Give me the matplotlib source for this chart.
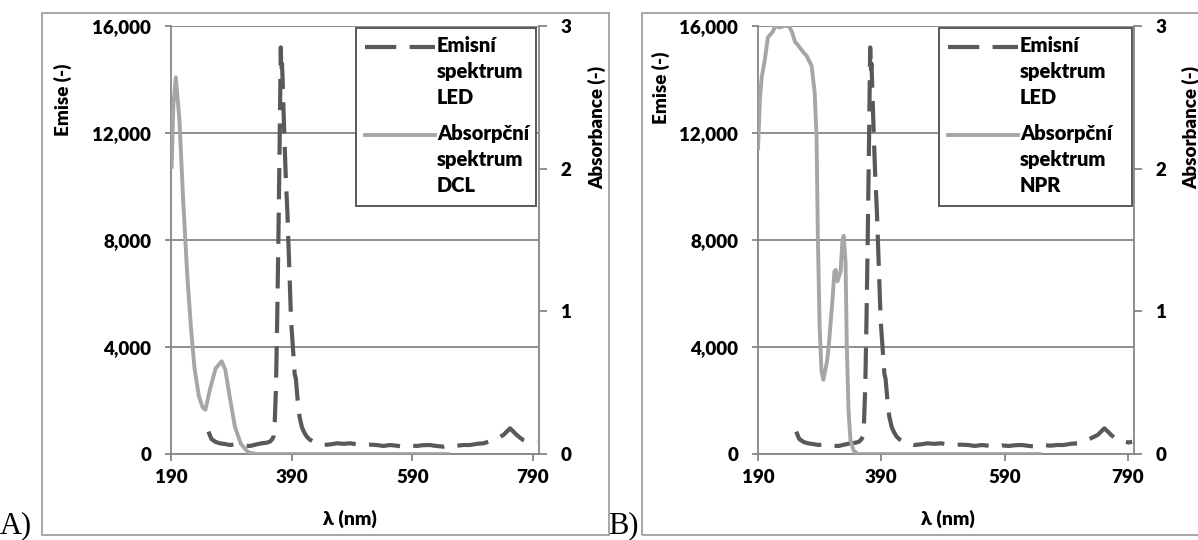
import matplotlib.pyplot as plt
from matplotlib.ticker import FuncFormatter
from matplotlib.patches import Rectangle
from matplotlib.lines import Line2D

# LED emission spectrum (same LED in both panels)
led_nm = [252, 257, 264, 271, 280, 288, 296, 304, 312, 321, 330, 340, 348, 354, 358,
          360, 362, 364, 366, 368, 370, 372, 373, 374, 375, 377, 380, 383, 386, 389,
          392, 395, 397, 400, 403, 407, 411, 415, 420, 426, 434, 443, 454, 465, 476,
          487, 498, 509, 520, 531, 542, 553, 564, 575, 586, 597, 608, 619, 630, 642,
          653, 664, 675, 686, 697, 708, 719, 730, 741, 752, 757, 763, 769, 774, 780,
          785, 791, 797]
led_val = [835, 560, 450, 400, 370, 336, 360, 336, 310, 300, 350, 400, 420, 460, 560,
           650, 1200, 2500, 5000, 8000, 11500, 15200, 14300, 14600, 14000, 12500, 10500, 9000, 7000, 5000,
           4000, 3000, 2800, 2000, 1400, 1000, 800, 650, 540, 460, 380, 336, 360, 400, 380,
           400, 360, 336, 350, 336, 300, 336, 310, 274, 320, 300, 330, 336, 300, 274,
           336, 310, 336, 336, 380, 400, 480, 585, 710, 960, 850, 710, 600, 523, 480,
           460, 430, 460]

# absorption spectra
dcl_nm = [191, 194, 198, 204, 210, 217, 223, 229, 236, 242, 247, 255, 264, 274, 280,
          287, 296, 306, 318, 331, 652]
dcl_abs = [2.0, 2.45, 2.64, 2.34, 1.79, 1.25, 0.89, 0.60, 0.41, 0.33, 0.31, 0.46, 0.60, 0.65, 0.59,
           0.41, 0.19, 0.07, 0.012, 0.0, 0.0]

npr_nm = [190, 193, 196, 201, 206, 214, 218, 225, 232, 240, 245, 250, 256, 261, 269,
          277, 282, 285, 287, 290, 293, 296, 302, 305, 311, 314, 316, 319, 324, 327,
          329, 332, 334, 337, 340, 345, 352, 650]
npr_abs = [2.13, 2.48, 2.64, 2.76, 2.92, 2.96, 3.0, 2.99, 3.0, 3.0, 2.96, 2.89, 2.86, 2.83, 2.79,
           2.72, 2.53, 2.22, 1.55, 0.89, 0.58, 0.52, 0.65, 0.77, 1.09, 1.28, 1.29, 1.21, 1.28, 1.50,
           1.53, 1.35, 0.77, 0.29, 0.10, 0.024, 0.0, 0.0]

panels = [
    ("A)", "DCL", dcl_nm, dcl_abs),
    ("B)", "NPR", npr_nm, npr_abs),
]

dark = '#595959'
light = '#a6a6a6'
axcol = '#868686'
font = ['Lato', 'DejaVu Sans']
wt = 'heavy'

fig = plt.figure(figsize=(11.98, 5.4), dpi=100)
W, H = 1198.0, 540.0

# pixel layout: axes box (left, right), frame (left, right), label positions
layout = [
    dict(ax=(171, 539), frame=(42, 609), tag=0, ylab=(-0.269, 0.827), y2lab=(1.133, 0.762),
         xlab=0.486, leg=(356, 536)),
    dict(ax=(758, 1134), frame=(642, 1200), tag=608, ylab=(-0.234, 0.855), y2lab=(1.128, 0.762),
         xlab=0.505, leg=(939, 1132)),
]
ax_top, ax_bot = 26, 454

for (tag, name, a_nm, a_abs), L in zip(panels, layout):
    fl, fr = L['frame']
    fig.add_artist(Rectangle((fl / W, 1 - 535 / H), (fr - fl) / W, (535 - 13) / H,
                             transform=fig.transFigure, fill=False, ec='#a0a0a0', lw=1.3))
    fig.text(L['tag'] / W, 1 - 533 / H, tag, family='Liberation Serif', fontsize=22,
             ha='left', va='baseline')

    x0, x1 = L['ax']
    ax = fig.add_axes([x0 / W, 1 - ax_bot / H, (x1 - x0) / W, (ax_bot - ax_top) / H])
    ax2 = ax.twinx()

    ax.plot(led_nm, led_val, color=dark, lw=3, dashes=(7.5, 3.2), zorder=3)
    ax2.plot(a_nm, a_abs, color=light, lw=2.8, solid_capstyle='butt')

    ax.set_xlim(190, 800)
    ax.set_ylim(0, 16000)
    ax2.set_ylim(0, 3)
    ax.set_xticks([190, 390, 590, 790])
    ax.set_yticks([0, 4000, 8000, 12000, 16000])
    ax2.set_yticks([0, 1, 2, 3])
    ax.yaxis.set_major_formatter(FuncFormatter(lambda v, p: f"{int(v):,}"))
    ax.grid(axis='y', color=axcol, lw=1.3)
    ax.set_axisbelow(True)

    for a in (ax, ax2):
        for s in a.spines.values():
            s.set_color(axcol)
            s.set_linewidth(1.3)
        a.spines['top'].set_visible(False)
    ax.spines['right'].set_visible(False)
    ax2.spines['left'].set_visible(False)
    ax2.spines['bottom'].set_visible(False)

    ax.tick_params(axis='x', direction='out', length=5, width=1.3, color=axcol, pad=6,
                   labelsize=13.5)
    ax.tick_params(axis='y', direction='out', length=4.3, width=1.3, color=axcol, pad=10,
                   labelsize=13.5)
    ax2.tick_params(axis='y', direction='out', length=5.5, width=1.3, color=axcol, pad=10,
                    labelsize=13.5)
    for t in ax.get_xticklabels() + ax.get_yticklabels() + ax2.get_yticklabels():
        t.set_fontweight(wt)
        t.set_family(font)

    ax.set_ylabel('Emise (-)', family=font, fontweight=wt, fontsize=13.5)
    ax.yaxis.set_label_coords(*L['ylab'])
    ax2.set_ylabel('Absorbance (-)', family=font, fontweight=wt, fontsize=13.5)
    ax2.yaxis.set_label_coords(*L['y2lab'])
    ax.set_xlabel('λ (nm)', family=font, fontweight=wt, fontsize=14)
    ax.xaxis.set_label_coords(L['xlab'], -0.131)

    # legend box drawn like the original (handle beside first text line)
    ll, lr = L['leg']
    fig.add_artist(Rectangle((ll / W, 1 - 206 / H), (lr - ll) / W, (206 - 28) / H,
                             transform=fig.transFigure, fill=True, fc='white', ec=dark,
                             lw=1.4, zorder=5))
    hx0, hx1 = ll + 9, ll + 79
    fig.add_artist(Line2D([hx0 / W, hx1 / W], [1 - 47 / H, 1 - 47 / H], color=dark, lw=3,
                          dashes=(7.5, 3.2), transform=fig.transFigure, zorder=6))
    fig.add_artist(Line2D([hx0 / W, hx1 / W], [1 - 135 / H, 1 - 135 / H], color=light, lw=2.8,
                          transform=fig.transFigure, zorder=6))
    for yy, lab in [(47, 'Emisní\nspektrum\nLED'), (135, 'Absorpční\nspektrum\n' + name)]:
        fig.text((hx1 + 2) / W, 1 - (yy - 11) / H, lab, family=font, fontweight=wt,
                 fontsize=14.5, ha='left', va='top', linespacing=1.45, zorder=7)

plt.savefig('out.png', dpi=100)
